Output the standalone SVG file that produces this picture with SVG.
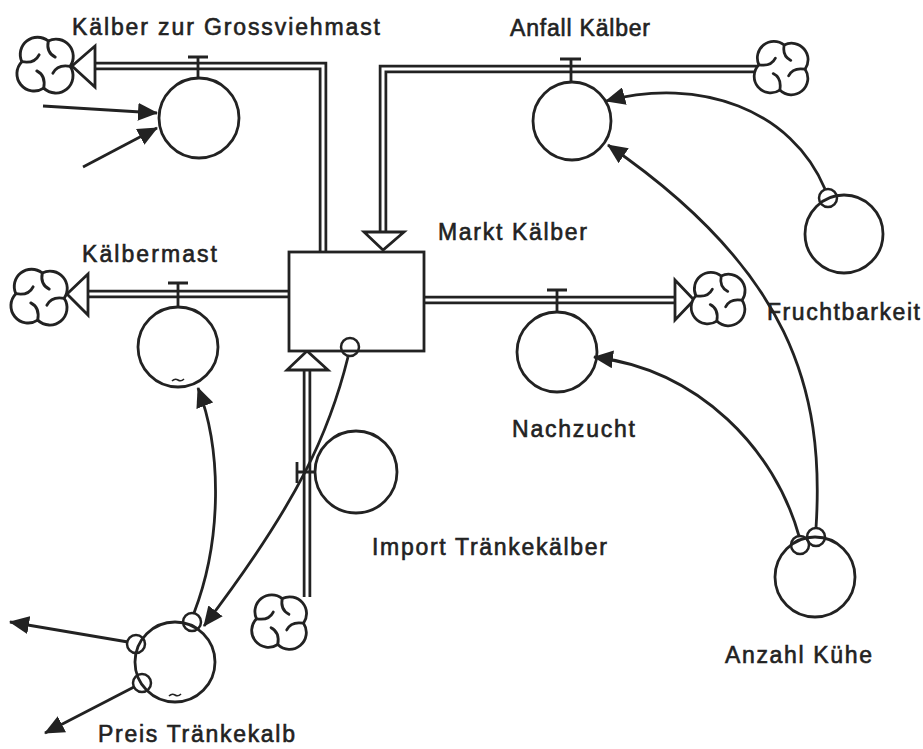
<svg xmlns="http://www.w3.org/2000/svg" xmlns:xlink="http://www.w3.org/1999/xlink" width="923" height="749" viewBox="0 0 923 749">
<style>
.txt{font-family:"Liberation Sans",Arial,sans-serif;font-size:23px;fill:#222;stroke:#222;stroke-width:0.6}
.node{fill:#fff;stroke:#222;stroke-width:2.8}
.pipeo{fill:none;stroke:#222;stroke-width:8.5;stroke-linejoin:miter}
.pipei{fill:none;stroke:#fff;stroke-width:3;stroke-linejoin:miter}
.head{fill:#fff;stroke:#222;stroke-width:2.8;stroke-linejoin:miter}
.valve{fill:none;stroke:#222;stroke-width:2.8}
.link{fill:none;stroke:#222;stroke-width:2.8}
.dot{fill:none;stroke:#222;stroke-width:2.5}
.cl{fill:#fff;stroke:#222;stroke-width:2.5;stroke-linejoin:round;stroke-linecap:round}
.cs{fill:none;stroke:#222;stroke-width:2.5;stroke-linecap:round}
.tl{fill:none;stroke:#222;stroke-width:1.6}
</style>
<defs>
<marker id="ah" markerWidth="20" markerHeight="18" refX="19" refY="9" orient="auto" markerUnits="userSpaceOnUse">
<path d="M0 0 L20 9 L0 18 Z" fill="#222"/>
</marker>
<g id="cloud">
<path class="cl" d="M 2 -20 A 15 15 0 0 1 21 2 A 15 15 0 0 1 -2 21 A 15 15 0 0 1 -21 -2 A 15 15 0 0 1 2 -20 Z"/>
<path class="cs" d="M 2 -20 Q 0 -10 8 -6 M 21 2 Q 10 0 6 8 M -2 21 Q 0 10 -8 6 M -21 -2 Q -10 0 -6 -8"/>
</g>
</defs>

<!-- flows (pipes) -->
<g id="flows">
<path class="pipeo" d="M 323 252 L 323 66 L 95 66"/>
<path class="pipei" d="M 323 252 L 323 66 L 95 66"/>
<path class="pipeo" d="M 758 69 L 383 69 L 383 232"/>
<path class="pipei" d="M 758 69 L 383 69 L 383 232"/>
<path class="pipeo" d="M 289 294 L 88 294"/>
<path class="pipei" d="M 289 294 L 88 294"/>
<path class="pipeo" d="M 425 300 L 675 300"/>
<path class="pipei" d="M 421 300 L 675 300"/>
<path class="pipeo" d="M 307 597 L 307 370"/>
<path class="pipei" d="M 307 597 L 307 370"/>
<polygon class="head" points="72,66 95,46 95,87"/>
<polygon class="head" points="383,250 364,232 404,232"/>
<polygon class="head" points="67,294 88,274 88,315"/>
<polygon class="head" points="694,300 675,280 675,320"/>
<polygon class="head" points="307,351 287,370 328,370"/>
</g>

<!-- clouds -->
<g id="cloud-grossvieh"><use xlink:href="#cloud" href="#cloud" transform="translate(46,64) scale(1.15)"/></g>
<g id="cloud-anfall"><use xlink:href="#cloud" href="#cloud" transform="translate(782,67) scale(1.1)"/></g>
<g id="cloud-kaelbermast"><use xlink:href="#cloud" href="#cloud" transform="translate(40,296) scale(1.15)"/></g>
<g id="cloud-nachzucht"><use xlink:href="#cloud" href="#cloud" transform="translate(719,298) scale(1.1)"/></g>
<g id="cloud-import"><use xlink:href="#cloud" href="#cloud" transform="translate(280,621) scale(1.12)"/></g>

<!-- stock -->
<g id="markt-kaelber">
<rect class="node" x="289" y="252" width="135" height="99"/>
<text class="txt" x="438" y="240" textLength="149" lengthAdjust="spacing">Markt Kälber</text>
</g>

<!-- flow valves / rates -->
<g id="kaelber-zur-grossviehmast">
<path class="valve" d="M 188 57 H 208 M 198 57 V 79"/>
<circle class="node" cx="199" cy="118" r="40"/>
<text class="txt" x="72" y="35" textLength="308" lengthAdjust="spacing">Kälber zur Grossviehmast</text>
</g>
<g id="anfall-kaelber">
<path class="valve" d="M 560 59 H 581 M 571 59 V 82"/>
<circle class="node" cx="572" cy="121" r="39"/>
<text class="txt" x="510" y="36" textLength="140" lengthAdjust="spacing">Anfall Kälber</text>
</g>
<g id="kaelbermast">
<path class="valve" d="M 168 283 H 188 M 178 283 V 307"/>
<circle class="node" cx="178" cy="347" r="40"/>
<path class="tl" d="M 172 381 q 3 -3 6 -1 t 6 -1"/>
<text class="txt" x="82" y="262" textLength="135" lengthAdjust="spacing">Kälbermast</text>
</g>
<g id="nachzucht">
<path class="valve" d="M 547 290 H 567 M 557 290 V 312"/>
<circle class="node" cx="557" cy="352" r="40"/>
<text class="txt" x="512" y="437" textLength="123" lengthAdjust="spacing">Nachzucht</text>
</g>
<g id="import-traenkekaelber">
<path class="valve" d="M 297 462 V 483 M 297 472 H 315"/>
<circle class="node" cx="356" cy="472" r="41"/>
<text class="txt" x="372" y="555" textLength="235" lengthAdjust="spacing">Import Tränkekälber</text>
</g>

<!-- auxiliaries -->
<g id="fruchtbarkeit">
<circle class="node" cx="844" cy="234" r="39"/>
<text class="txt" x="767" y="320" textLength="153" lengthAdjust="spacing">Fruchtbarkeit</text>
</g>
<g id="anzahl-kuehe">
<circle class="node" cx="815" cy="577" r="40"/>
<text class="txt" x="725" y="663" textLength="147" lengthAdjust="spacing">Anzahl Kühe</text>
</g>
<g id="preis-traenkekalb">
<circle class="node" cx="175" cy="662" r="40"/>
<path class="tl" d="M 169 696 q 3 -3 6 -1 t 6 -1"/>
<text class="txt" x="98" y="742" textLength="197" lengthAdjust="spacing">Preis Tränkekalb</text>
</g>

<!-- connectors -->
<g id="connectors">
<path class="link" marker-end="url(#ah)" d="M 825 189 C 792 110 700 76 606 101"/>
<path class="link" marker-end="url(#ah)" d="M 816 528 C 825 390 790 270 608 145"/>
<path class="link" marker-end="url(#ah)" d="M 799 536 C 775 450 700 370 594 357"/>
<path class="link" marker-end="url(#ah)" d="M 348 357 C 330 430 300 500 204 626"/>
<path class="link" marker-end="url(#ah)" d="M 194 613 C 222 540 222 450 198 388"/>
<path class="link" marker-end="url(#ah)" d="M 128 642 L 10 622"/>
<path class="link" marker-end="url(#ah)" d="M 134 687 L 45 733"/>
<path class="link" marker-end="url(#ah)" d="M 43 106 L 157 113"/>
<path class="link" marker-end="url(#ah)" d="M 83 167 L 157 128"/>
<circle class="dot" cx="828" cy="198" r="9"/>
<circle class="dot" cx="800" cy="545" r="9"/>
<circle class="dot" cx="816" cy="537" r="9"/>
<circle class="dot" cx="350" cy="347" r="9"/>
<circle class="dot" cx="192" cy="622" r="9"/>
<circle class="dot" cx="136" cy="644" r="9"/>
<circle class="dot" cx="142" cy="683" r="9"/>
</g>
</svg>
